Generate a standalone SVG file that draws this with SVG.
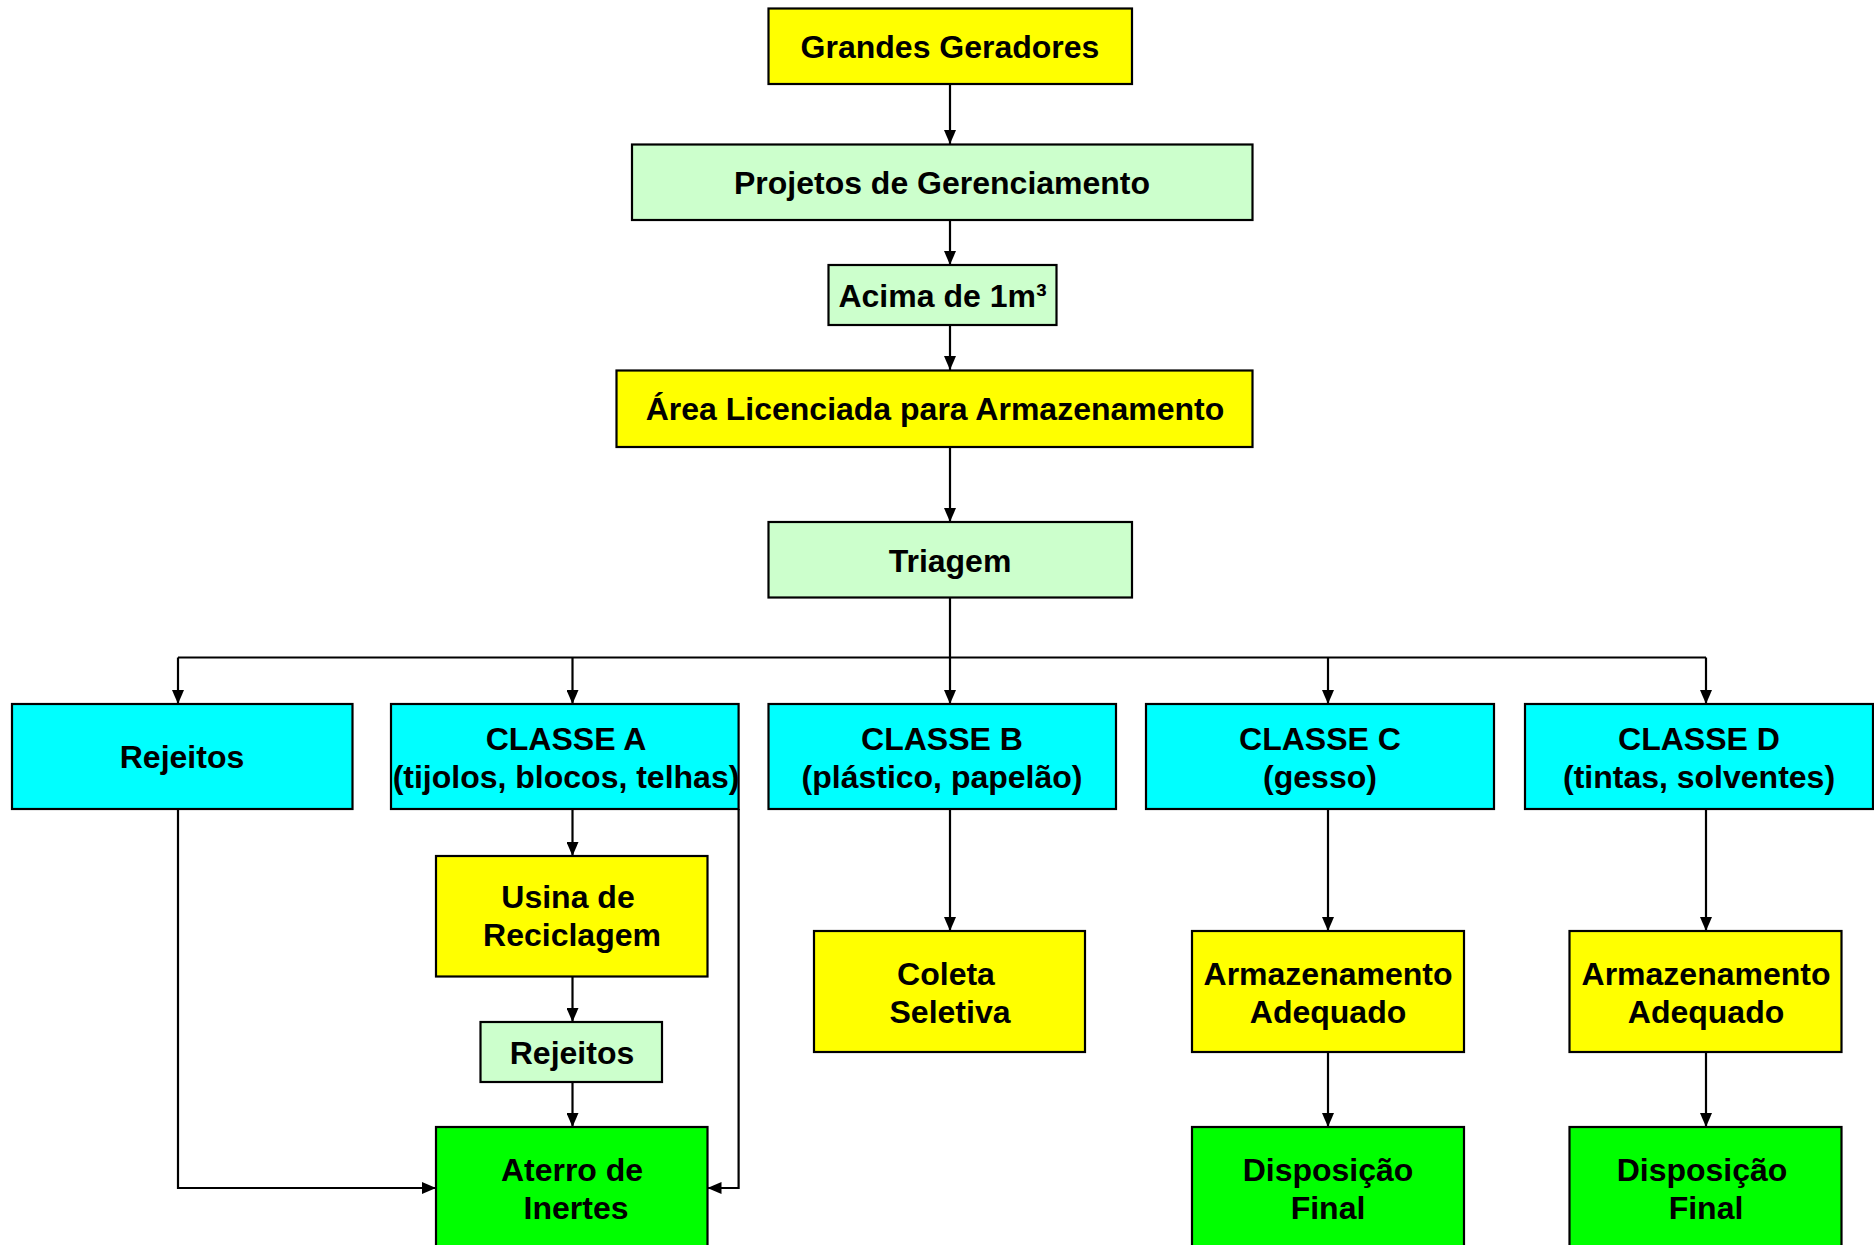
<svg xmlns="http://www.w3.org/2000/svg" width="1874" height="1245" viewBox="0 0 1874 1245">
<defs>
<marker id="ah" viewBox="0 0 14 12" refX="14" refY="6" markerWidth="14" markerHeight="12" markerUnits="userSpaceOnUse" orient="auto">
<path d="M0,0 L14,6 L0,12 Z" fill="#000"/>
</marker>
<style>
rect{stroke:#000;stroke-width:2.2}
.y{fill:#FFFF00}.lg{fill:#CCFFCC}.c{fill:#00FFFF}.g{fill:#00FF00}
text{font-family:"Liberation Sans",Arial,sans-serif;font-weight:bold;font-size:32px;text-anchor:middle;fill:#000}
.conn path{fill:none;stroke:#000;stroke-width:2.2}
</style>
</defs>
<rect x="0" y="0" width="1874" height="1245" fill="#fff" style="stroke:none"/>
<g class="conn">
<path d="M950,84 V144" marker-end="url(#ah)"/>
<path d="M950,220 V265" marker-end="url(#ah)"/>
<path d="M950,325 V370" marker-end="url(#ah)"/>
<path d="M950,447 V522" marker-end="url(#ah)"/>
<path d="M950,598 V657.5 M178,657.5 H1706"/>
<path d="M178,657.5 V704" marker-end="url(#ah)"/>
<path d="M572.5,657.5 V704" marker-end="url(#ah)"/>
<path d="M950,657.5 V704" marker-end="url(#ah)"/>
<path d="M1328,657.5 V704" marker-end="url(#ah)"/>
<path d="M1706,657.5 V704" marker-end="url(#ah)"/>
<path d="M572.5,809 V856" marker-end="url(#ah)"/>
<path d="M572.5,976.5 V1022" marker-end="url(#ah)"/>
<path d="M572.5,1082 V1127" marker-end="url(#ah)"/>
<path d="M178,809 V1188 H436" marker-end="url(#ah)"/>
<path d="M738.6,809 V1188 H707.5" marker-end="url(#ah)"/>
<path d="M950,809 V931" marker-end="url(#ah)"/>
<path d="M1328,809 V931" marker-end="url(#ah)"/>
<path d="M1706,809 V931" marker-end="url(#ah)"/>
<path d="M1328,1052 V1127" marker-end="url(#ah)"/>
<path d="M1706,1052 V1127" marker-end="url(#ah)"/>
</g>
<g id="grandes-geradores"><rect class="y" x="768.5" y="8.5" width="363.5" height="75.5"/><text x="950" y="57.5">Grandes Geradores</text></g>
<g id="projetos"><rect class="lg" x="632" y="144.5" width="620.5" height="75.5"/><text x="942" y="194">Projetos de Gerenciamento</text></g>
<g id="acima"><rect class="lg" x="828.5" y="265" width="228" height="60"/><text x="942.5" y="307">Acima de 1m³</text></g>
<g id="area"><rect class="y" x="616.5" y="370.5" width="636" height="76.5"/><text x="935" y="420">Área Licenciada para Armazenamento</text></g>
<g id="triagem"><rect class="lg" x="768.5" y="522" width="363.5" height="75.5"/><text x="950" y="571.5">Triagem</text></g>
<g id="rejeitos"><rect class="c" x="12" y="704" width="340.5" height="105"/><text x="182" y="767.5">Rejeitos</text></g>
<g id="classe-a"><rect class="c" x="391" y="704" width="347.6" height="105"/><text x="566" y="749.5">CLASSE A</text><text x="566" y="788">(tijolos, blocos, telhas)</text></g>
<g id="classe-b"><rect class="c" x="768.5" y="704" width="347.5" height="105"/><text x="942" y="749.5">CLASSE B</text><text x="942" y="788">(plástico, papelão)</text></g>
<g id="classe-c"><rect class="c" x="1146" y="704" width="348" height="105"/><text x="1320" y="749.5">CLASSE C</text><text x="1320" y="788">(gesso)</text></g>
<g id="classe-d"><rect class="c" x="1525" y="704" width="348" height="105"/><text x="1699" y="749.5">CLASSE D</text><text x="1699" y="788">(tintas, solventes)</text></g>
<g id="usina"><rect class="y" x="436" y="856" width="271.5" height="120.5"/><text x="568" y="907.5">Usina de</text><text x="572" y="946">Reciclagem</text></g>
<g id="rejeitos-usina"><rect class="lg" x="480.5" y="1022" width="181.5" height="60"/><text x="572" y="1064">Rejeitos</text></g>
<g id="aterro"><rect class="g" x="436" y="1127" width="271.5" height="125"/><text x="572" y="1181">Aterro de</text><text x="576" y="1219">Inertes</text></g>
<g id="coleta"><rect class="y" x="814" y="931" width="271" height="121"/><text x="946" y="985">Coleta</text><text x="950" y="1023">Seletiva</text></g>
<g id="armaz-c"><rect class="y" x="1192" y="931" width="272" height="121"/><text x="1328" y="985">Armazenamento</text><text x="1328" y="1023">Adequado</text></g>
<g id="armaz-d"><rect class="y" x="1569.5" y="931" width="272" height="121"/><text x="1706" y="985">Armazenamento</text><text x="1706" y="1023">Adequado</text></g>
<g id="disp-c"><rect class="g" x="1192" y="1127" width="272" height="125"/><text x="1328" y="1181">Disposição</text><text x="1328" y="1219">Final</text></g>
<g id="disp-d"><rect class="g" x="1569.5" y="1127" width="272" height="125"/><text x="1702" y="1181">Disposição</text><text x="1706" y="1219">Final</text></g>
</svg>
